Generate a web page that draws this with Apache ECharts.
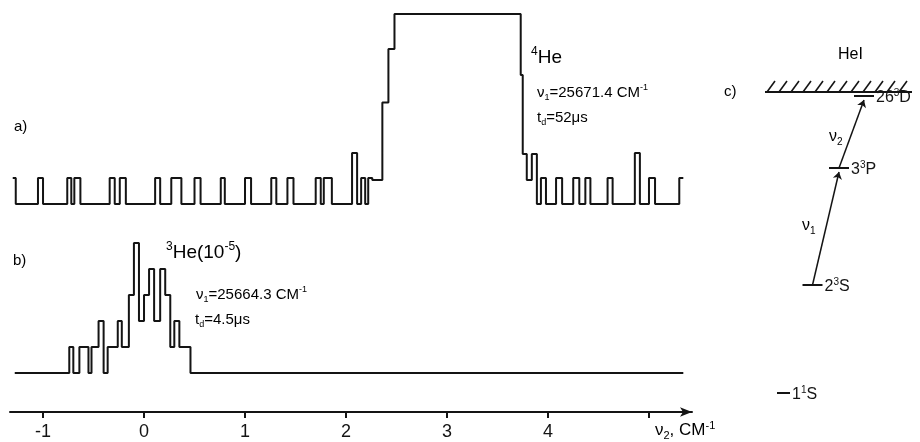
<!DOCTYPE html>
<html>
<head>
<meta charset="utf-8">
<script src="https://cdn.jsdelivr.net/npm/echarts@6/dist/echarts.min.js"></script>
<style>
  html, body { margin: 0; padding: 0; background: #fff; }
  #chart { width: 920px; height: 442px; }
</style>
</head>
<body>
<div id="chart"></div>
<script>
// nu2 axis, cm^-1
const tickValues = [-1, 0, 1, 2, 3, 4, 5];
const tickLabels = [-1, 0, 1, 2, 3, 4];

// a) 4He signal, [nu2, level] at every level change (level holds until next point)
const traceA = [
  [-1.30, 1], [-1.27, 0], [-1.05, 1], [-1.00, 0], [-0.76, 1], [-0.72, 0], [-0.69, 1], [-0.63, 0],
  [-0.34, 1], [-0.29, 0], [-0.24, 1], [-0.18, 0], [0.11, 1], [0.16, 0], [0.27, 1], [0.37, 0],
  [0.50, 1], [0.56, 0], [0.76, 1], [0.80, 0], [1.00, 1], [1.06, 0], [1.26, 1], [1.31, 0],
  [1.42, 1], [1.48, 0], [1.70, 1], [1.75, 0], [1.78, 1], [1.86, 0], [2.06, 1.96], [2.11, 0],
  [2.15, 1], [2.19, 0], [2.22, 1], [2.26, 0.92], [2.36, 3.9], [2.42, 5.96], [2.48, 7.3],
  [3.73, 4.96], [3.75, 1.92], [3.79, 0.92], [3.84, 1.92], [3.89, 0], [3.93, 1], [3.98, 0],
  [4.08, 1], [4.14, 0], [4.25, 1], [4.31, 0], [4.37, 1], [4.42, 0], [4.59, 1], [4.64, 0],
  [4.86, 1.96], [4.91, 0], [5.00, 1], [5.06, 0], [5.30, 1], [5.34, 1]
];

// b) 3He signal
const traceB = [
  [-1.28, 0], [-0.74, 1], [-0.70, 0], [-0.64, 1], [-0.55, 0], [-0.52, 1], [-0.45, 2], [-0.40, 0],
  [-0.36, 1], [-0.26, 2], [-0.22, 1], [-0.15, 3], [-0.10, 5], [-0.05, 2], [0.00, 3], [0.05, 4],
  [0.10, 2], [0.16, 4], [0.21, 3], [0.26, 1], [0.30, 2], [0.35, 1], [0.46, 0], [5.34, 0]
];

// c) level scheme (arbitrary height units)
const levelNames = ['1^{1}S', '2^{3}S', '3^{3}P', '26^{3}D'];
const levelHeights = [4.9, 15.7, 27.4, 34.6];
const levelX = [2.35, 5.25, 7.9, 10.4];
const limitHeight = 35.0;
const transitionNames = ['ν_{1}', 'ν_{2}'];

const FONT = 'Liberation Sans';
const INK = '#141414';
const X_MIN = -1.327, X_MAX = 5.426;

// turn "^{..}" / "_{..}" into rich-text tokens
function rt(s) {
  return s.replace(/\^\{([^}]*)\}|_\{([^}]*)\}|([^^_]+)/g, function (m, sup, sub, txt) {
    if (sup != null) return '{s|' + sup + '}';
    if (sub != null) return '{b|' + sub + '}';
    return '{m|' + txt + '}';
  });
}
function rich(size) {
  const small = Math.round(size * 0.62);
  return {
    m: { fontFamily: FONT, fontSize: size, lineHeight: size + 4, color: INK },
    s: { fontFamily: FONT, fontSize: small, lineHeight: small, verticalAlign: 'top', color: INK },
    b: { fontFamily: FONT, fontSize: small, lineHeight: small, verticalAlign: 'bottom', color: INK }
  };
}
function note(text, left, top, size) {
  return { type: 'text', left: left, top: top, style: { text: rt(text), rich: rich(size), fontFamily: FONT } };
}

const chart = echarts.init(document.getElementById('chart'));

const option = {
  animation: false,
  backgroundColor: '#fff',
  textStyle: { fontFamily: FONT, color: INK },
  grid: [
    { left: 10, width: 682, top: 14, bottom: 238 },
    { left: 10, width: 682, top: 243, bottom: 30 },
    { left: 760, width: 160, top: 0, bottom: 0 }
  ],
  xAxis: [
    { gridIndex: 0, type: 'value', min: X_MIN, max: X_MAX, show: false },
    {
      gridIndex: 1, type: 'value', min: X_MIN, max: X_MAX,
      axisLine: { onZero: false, symbol: ['none', 'arrow'], symbolSize: [7, 12], lineStyle: { color: INK, width: 2 } },
      axisTick: { customValues: tickValues, length: 6, lineStyle: { color: INK, width: 2 } },
      axisLabel: { customValues: tickLabels, fontSize: 18, color: INK, margin: 11, fontFamily: FONT },
      splitLine: { show: false }
    },
    { gridIndex: 2, type: 'value', min: 0, max: 16, show: false }
  ],
  yAxis: [
    { gridIndex: 0, type: 'value', min: 0, max: 7.3, show: false },
    { gridIndex: 1, type: 'value', min: -1.5, max: 5, show: false },
    { gridIndex: 2, type: 'value', min: 0, max: 44.2, show: false }
  ],
  series: [
    {
      type: 'line', xAxisIndex: 0, yAxisIndex: 0, step: 'end', data: traceA,
      showSymbol: false, lineStyle: { color: INK, width: 2 }
    },
    {
      type: 'line', xAxisIndex: 1, yAxisIndex: 1, step: 'end', data: traceB,
      showSymbol: false, lineStyle: { color: INK, width: 2 }
    },
    {
      // ionisation limit, hatched
      type: 'custom', xAxisIndex: 2, yAxisIndex: 2,
      data: [[0.5, 15.2, limitHeight]],
      renderItem: function (params, api) {
        const a = api.coord([api.value(0), api.value(2)]);
        const b = api.coord([api.value(1), api.value(2)]);
        const kids = [{ type: 'line', shape: { x1: a[0], y1: a[1], x2: b[0], y2: b[1] }, style: { stroke: INK, lineWidth: 2 } }];
        for (let x = a[0] + 2; x < b[0] - 4; x += 12) {
          kids.push({ type: 'line', shape: { x1: x, y1: a[1], x2: x + 8, y2: a[1] - 11 }, style: { stroke: INK, lineWidth: 1.6 } });
        }
        return { type: 'group', children: kids };
      }
    },
    {
      type: 'lines', coordinateSystem: 'cartesian2d', xAxisIndex: 2, yAxisIndex: 2,
      lineStyle: { color: INK, width: 2, opacity: 1 },
      label: {
        show: true, position: 'end', distance: 2, offset: [0, 2],
        formatter: function (p) { return rt(p.name); }, rich: rich(16)
      },
      data: levelNames.map(function (name, i) {
        const hw = i === 0 ? 0.65 : 1.0;
        return { name: name, coords: [[levelX[i] - hw, levelHeights[i]], [levelX[i] + hw, levelHeights[i]]] };
      })
    },
    {
      type: 'lines', coordinateSystem: 'cartesian2d', xAxisIndex: 2, yAxisIndex: 2,
      symbol: ['none', 'arrow'], symbolSize: 7,
      lineStyle: { color: INK, width: 1.5, opacity: 1 },
      data: transitionNames.map(function (name, i) {
        return { name: name, coords: [[levelX[i + 1], levelHeights[i + 1]], [levelX[i + 2], levelHeights[i + 2] - 0.4]] };
      })
    }
  ],
  graphic: [
    note('a)', 14, 119, 15),
    note('b)', 13, 253, 15),
    note('c)', 724, 84, 15),
    note('^{4}He', 531, 46, 19),
    note('ν_{1}=25671.4 CM^{-1}', 537, 83, 15),
    note('t_{d}=52μs', 537, 110, 15),
    note('^{3}He(10^{-5})', 166, 241, 19),
    note('ν_{1}=25664.3 CM^{-1}', 196, 285, 15),
    note('t_{d}=4.5μs', 195, 312, 15),
    note('HeI', 838, 47, 16),
    note(transitionNames[1], 829, 129, 16),
    note(transitionNames[0], 802, 218, 16),
    note('ν_{2}, CM^{-1}', 655, 420, 17)
  ]
};

chart.setOption(option);
</script>
</body>
</html>
